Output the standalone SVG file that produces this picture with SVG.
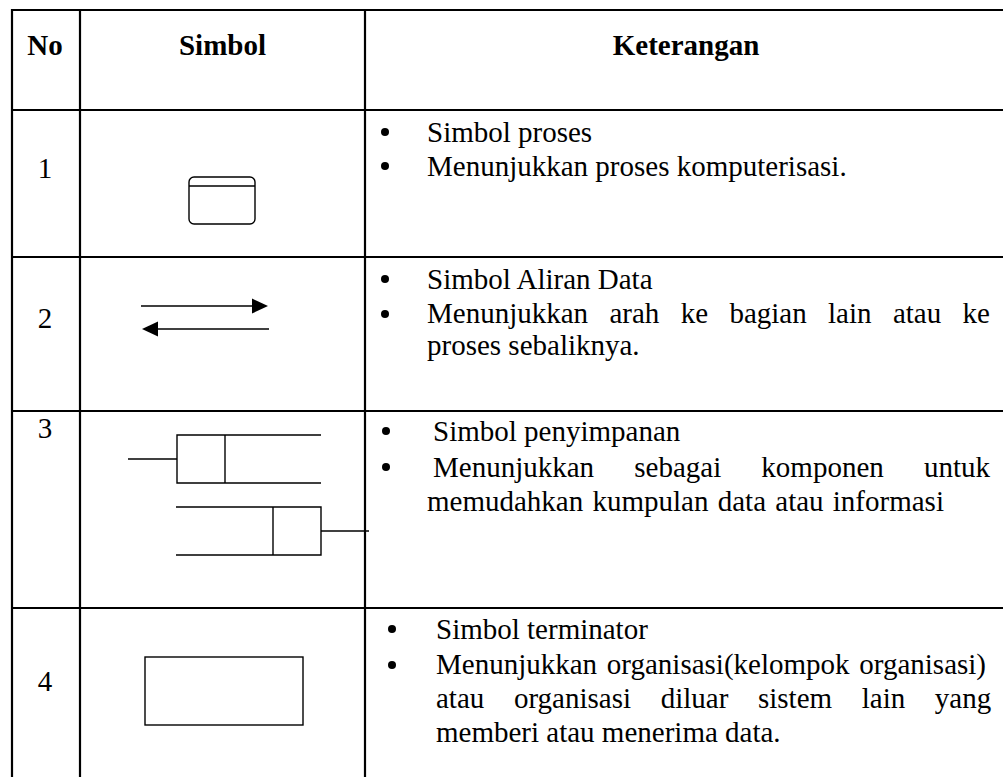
<svg xmlns="http://www.w3.org/2000/svg" width="1003" height="777" viewBox="0 0 1003 777">
<style>
.grid{stroke:#000;stroke-width:2.2;fill:none}
.sym{stroke:#000;stroke-width:1.4;fill:none}
.t{font-family:"Liberation Serif","Times New Roman",serif;font-size:29px;fill:#000}
.h{font-family:"Liberation Serif","Times New Roman",serif;font-size:29px;font-weight:bold;fill:#000}
.n{text-anchor:middle}
</style>
<defs>
<circle id="dot" r="4" fill="#000"/>
</defs>
<rect width="1003" height="777" fill="#fff"/>
<g id="grid">
<line class="grid" x1="12" y1="10" x2="1003" y2="10"/>
<line class="grid" x1="12" y1="110" x2="1003" y2="110"/>
<line class="grid" x1="12" y1="257" x2="1003" y2="257"/>
<line class="grid" x1="12" y1="411" x2="1003" y2="411"/>
<line class="grid" x1="12" y1="608" x2="1003" y2="608"/>
<line class="grid" x1="12" y1="9" x2="12" y2="777"/>
<line class="grid" x1="80" y1="9" x2="80" y2="777"/>
<line class="grid" x1="365" y1="9" x2="365" y2="777"/>
</g>
<g id="header">
<text class="h n" x="45" y="55">No</text>
<text class="h n" x="222.5" y="55">Simbol</text>
<text class="h n" x="686" y="55">Keterangan</text>
</g>
<g id="row1">
<text class="t n" x="45" y="178">1</text>
<rect class="sym" x="189" y="177" width="66" height="47" rx="5"/>
<line class="sym" x1="189" y1="186" x2="255" y2="186"/>
<use href="#dot" x="385" y="132"/>
<use href="#dot" x="385" y="166"/>
<text class="t" x="427" y="142">Simbol proses</text>
<text class="t" x="427" y="176">Menunjukkan proses komputerisasi.</text>
</g>
<g id="row2">
<text class="t n" x="45" y="328">2</text>
<line class="sym" x1="141" y1="306" x2="254" y2="306" stroke-width="2"/>
<polygon points="252,298.5 268,306 252,313.5" fill="#000"/>
<line class="sym" x1="156" y1="329" x2="269" y2="329" stroke-width="2"/>
<polygon points="158,321.5 142,329 158,336.5" fill="#000"/>
<use href="#dot" x="385" y="279"/>
<use href="#dot" x="385" y="314"/>
<text class="t" x="427" y="289">Simbol Aliran Data</text>
<text class="t" x="427" y="323" word-spacing="14.1">Menunjukkan arah ke bagian lain atau ke</text>
<text class="t" x="427" y="355">proses sebaliknya.</text>
</g>
<g id="row3">
<text class="t n" x="45" y="438">3</text>
<line class="sym" x1="128" y1="459" x2="177" y2="459"/>
<polyline class="sym" points="321,435 177,435 177,483 321,483"/>
<line class="sym" x1="225" y1="435" x2="225" y2="483"/>
<polyline class="sym" points="176,507 321,507 321,555 176,555"/>
<line class="sym" x1="273" y1="507" x2="273" y2="555"/>
<line class="sym" x1="321" y1="531" x2="369" y2="531"/>
<use href="#dot" x="386" y="431"/>
<use href="#dot" x="386" y="467"/>
<text class="t" x="433" y="441">Simbol penyimpanan</text>
<text class="t" x="433" y="477" word-spacing="32.9">Menunjukkan sebagai komponen untuk</text>
<text class="t" x="427" y="511" word-spacing="2">memudahkan kumpulan data atau informasi</text>
</g>
<g id="row4">
<text class="t n" x="45" y="691">4</text>
<rect class="sym" x="145" y="657" width="158" height="68"/>
<use href="#dot" x="392" y="629"/>
<use href="#dot" x="392" y="665"/>
<text class="t" x="436" y="639">Simbol terminator</text>
<text class="t" x="436" y="674" word-spacing="2.5">Menunjukkan organisasi(kelompok organisasi)</text>
<text class="t" x="436" y="708" word-spacing="22.4">atau organisasi diluar sistem lain yang</text>
<text class="t" x="436" y="742">memberi atau menerima data.</text>
</g>
</svg>
